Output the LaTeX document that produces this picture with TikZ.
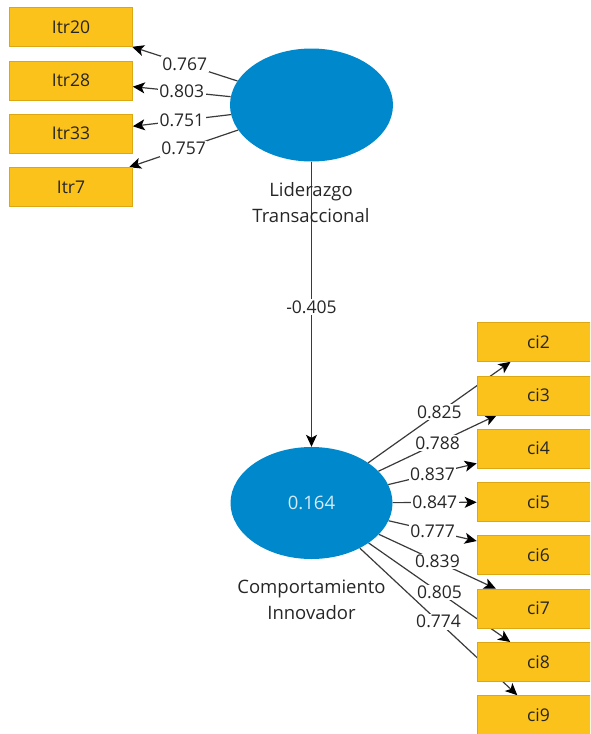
\documentclass[tikz,border=0pt]{standalone}
\usepackage{fontspec}
\setmainfont{Open Sans}
\usetikzlibrary{arrows.meta,backgrounds,shapes.geometric}
\definecolor{indyel}{HTML}{FBC21B}
\definecolor{indbrd}{HTML}{DDA712}
\definecolor{latblue}{HTML}{0088CC}
\definecolor{txtc}{HTML}{262626}
\definecolor{edgec}{HTML}{3A3A3A}
\definecolor{rsq}{HTML}{D6EAF6}
\begin{document}
\begin{tikzpicture}[x=1pt,y=-1pt,
  indbox/.style={draw=indbrd, line width=0.6pt, fill=indyel, minimum width=123pt,
    minimum height=39pt, inner sep=0pt, text=txtc, font=\fontsize{17.5}{20}\selectfont},
  latent/.style={ellipse, fill=latblue, draw=none, inner sep=0pt,
    minimum width=163pt, minimum height=113pt, text=rsq, font=\fontsize{18.5}{22}\selectfont},
  latlab/.style={align=center, text=txtc, font=\fontsize{18.5}{26}\selectfont},
  pth/.style={draw=edgec, line width=1.2pt, -{Stealth[length=12pt,width=11pt,inset=3pt,color=black]}},
  wlab/.style={fill=white, inner sep=1.5pt, text=txtc, font=\fontsize{17.5}{20}\selectfont}
]
\useasboundingbox (0,0) rectangle (590,734);
\clip (0,0) rectangle (590,734);

% indicators (left)
\node[indbox] (itr20) at (71,27)  {Itr20};
\node[indbox] (itr28) at (71,80.3) {Itr28};
\node[indbox] (itr33) at (71,133.6) {Itr33};
\node[indbox] (itr7)  at (71,187) {Itr7};

% indicators (right)
\node[indbox] (ci2) at (538.5,342)   {ci2};
\node[indbox] (ci3) at (538.5,395.3) {ci3};
\node[indbox] (ci4) at (538.5,448.6) {ci4};
\node[indbox] (ci5) at (538.5,502)   {ci5};
\node[indbox] (ci6) at (538.5,555.2) {ci6};
\node[indbox] (ci7) at (538.5,608.5) {ci7};
\node[indbox] (ci8) at (538.5,661.8) {ci8};
\node[indbox] (ci9) at (538.5,715)   {ci9};

% latent variables
\node[latent] (lt) at (311.5,105) {};
\node[latent, minimum width=162pt, minimum height=112pt] (ci) at (311.5,503) {0.164};

\node[latlab] (ltlab) at (311,203) {Liderazgo\\Transaccional};
\node[latlab] (cilab) at (311.5,600) {Comportamiento\\Innovador};

\begin{pgfonlayer}{background}
\draw[pth] (lt) -- node[wlab]{0.767} (itr20);
\draw[pth] (lt) -- node[wlab]{0.803} (itr28);
\draw[pth] (lt) -- node[wlab]{0.751} (itr33);
\draw[pth] (lt) -- node[wlab]{0.757} (itr7);

\draw[pth] (lt) -- node[wlab, pos=0.51]{-0.405} (ci);

\draw[pth] (ci) -- node[wlab]{0.825} (ci2);
\draw[pth] (ci) -- node[wlab]{0.788} (ci3);
\draw[pth] (ci) -- node[wlab]{0.837} (ci4);
\draw[pth] (ci) -- node[wlab]{0.847} (ci5);
\draw[pth] (ci) -- node[wlab]{0.777} (ci6);
\draw[pth] (ci) -- node[wlab]{0.839} (ci7);
\draw[pth] (ci) -- node[wlab]{0.805} (ci8);
\draw[pth] (ci) -- node[wlab]{0.774} (ci9);
\end{pgfonlayer}
\end{tikzpicture}
\end{document}
